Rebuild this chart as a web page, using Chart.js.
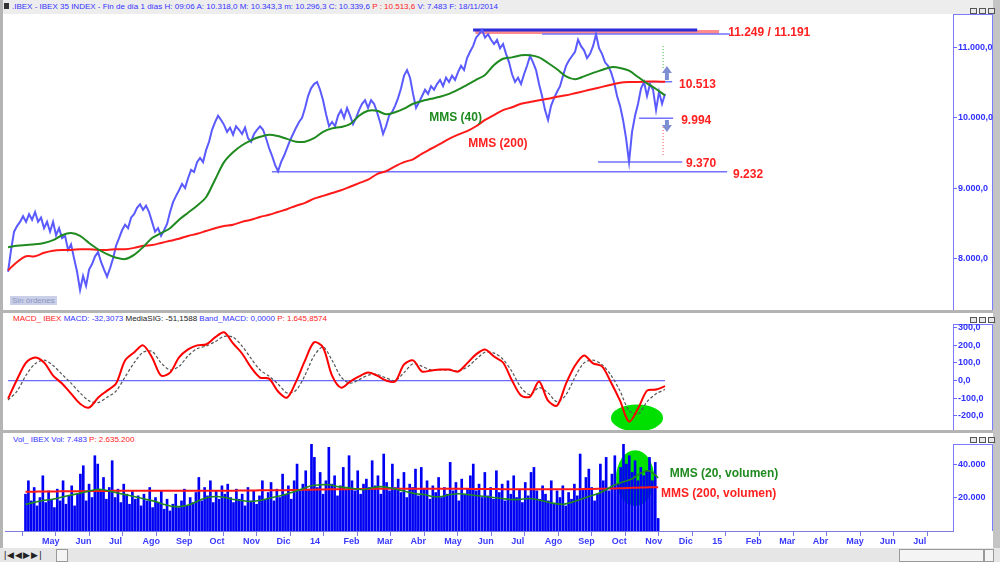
<!DOCTYPE html>
<html>
<head>
<meta charset="utf-8">
<script src="https://cdn.jsdelivr.net/npm/chart.js@4"></script>
<style>
  body { margin:0; width:1000px; height:562px; overflow:hidden; background:#b4b4b4; position:relative;
         font-family:"Liberation Sans", Arial, sans-serif; }
  .abs { position:absolute; }
  .panel { position:absolute; background:#fff; }
  .hdr { position:absolute; font-size:8px; white-space:nowrap; color:#3434ff; }
  .r { color:#ff2020; }
  .k { color:#222; }
  .axbox { position:absolute; border:1px solid #7b7bff; border-bottom:none; box-sizing:border-box; }
  .btns { position:absolute; white-space:nowrap; line-height:0; }
  .btns span { display:inline-block; width:5px; height:4px; border:1px solid #555; margin-right:2px; background:#e8e8e8; }
  canvas { position:absolute; left:0; }
</style>
</head>
<body>
<div class="panel" style="left:3px;top:0;width:990px;height:14px;background:#ededed"></div>
<div class="panel" style="left:3px;top:14px;width:990px;height:296px"></div>
<div class="panel" style="left:3px;top:313px;width:990px;height:117px"></div>
<div class="panel" style="left:3px;top:433px;width:990px;height:115px"></div>
<div class="panel" style="left:0;top:548px;width:1000px;height:14px;background:#e6e6e6"></div>
<div class="panel" style="left:993px;top:0;width:7px;height:548px;background:#c4c4c4"></div>

<div class="hdr" style="left:4px;top:3px;width:5px;height:6px;background:#333"></div>
<div class="hdr" style="left:12px;top:2px">.IBEX - IBEX 35 INDEX - Fin de día 1 días H: 09:06 A: 10.318,0 M: 10.343,3 m: 10.296,3 C: 10.339,6 <span class="r">P : 10.513,6</span> V: 7.483 F: 18/11/2014</div>
<div class="hdr" style="left:13px;top:314px"><span class="r">MACD_ IBEX</span> MACD: -32,3073 <span class="k">MediaSIG: -51,1588</span> Band_MACD: 0,0000 <span class="r">P: 1.645,8574</span></div>
<div class="hdr" style="left:13px;top:435px">Vol_ IBEX Vol: 7.483 <span class="r">P: 2.635.200</span></div>
<div class="hdr" style="left:10px;top:296px;background:#c9d0e8;color:#8b95c2;padding:0 2px">Sin órdenes</div>

<div class="btns" style="left:970px;top:8px"><span></span><span></span><span></span></div>
<div class="btns" style="left:970px;top:317px"><span></span><span></span><span></span></div>
<div class="btns" style="left:970px;top:437px"><span></span><span></span><span></span></div>

<div class="axbox" style="left:953px;top:14px;width:40px;height:296px"></div>
<div class="axbox" style="left:953px;top:324px;width:40px;height:106px"></div>
<div class="axbox" style="left:953px;top:444px;width:40px;height:87px"></div>

<div class="hdr k" style="left:4px;top:550px;font-size:9px;letter-spacing:1px">|◀◀▶▶|</div>
<div class="abs" style="left:56px;top:549px;width:10px;height:11px;border:1px solid #999;background:#f4f4f4"></div>
<div class="abs" style="left:899px;top:549px;width:83px;height:11px;border:1px solid #999;background:#f4f4f4"></div>
<div class="abs" style="left:984px;top:549px;width:8px;height:11px;border:1px solid #999;background:#f4f4f4"></div>

<canvas id="price" width="993" height="296" style="top:14px"></canvas>
<canvas id="macd" width="993" height="106" style="top:324px"></canvas>
<canvas id="vol" width="993" height="104" style="top:444px"></canvas>

<script>
// x axis unit: months counted from 1 May 2013
const monthLabels = ['May','Jun','Jul','Ago','Sep','Oct','Nov','Dic','14','Feb','Mar','Abr','May','Jun','Jul','Ago','Sep','Oct','Nov','Dic','15','Feb','Mar','Abr','May','Jun','Jul'];
const firstSample = -0.402;   // mid April 2013
const dayStep = 0.0862;       // price / volume sampling step
const maStep = 0.2586;        // averages / MACD sampling step

// IBEX close
const priceClose = [
  7810, 8120, 8380, 8460, 8520, 8600, 8520, 8630, 8550, 8660,
  8520, 8580, 8430, 8520, 8380, 8520, 8330, 8430, 8290, 8320,
  8120, 8200, 8000, 7810, 7550, 7750, 7610, 7840, 7920, 8030,
  8090, 7950, 7840, 7740, 7860, 8000, 8180, 8290, 8400, 8480,
  8430, 8580, 8630, 8720, 8770, 8690, 8750, 8660, 8520, 8380,
  8430, 8320, 8400, 8490, 8660, 8800, 8890, 8970, 9060, 9000,
  9140, 9260, 9230, 9370, 9430, 9370, 9540, 9660, 9830, 9940,
  10030, 9970, 9900, 9800, 9860, 9760, 9880, 9830, 9770, 9860,
  9710, 9660, 9770, 9830, 9880, 9830, 9710, 9570, 9460, 9330,
  9240, 9370, 9460, 9570, 9680, 9770, 9860, 9940, 10000, 10140,
  10310, 10420, 10480, 10510, 10400, 10250, 10050, 9880, 9940, 9880,
  10030, 10110, 10000, 10140, 10030, 9910, 10000, 10110, 10200, 10250,
  10140, 10250, 10200, 10080, 9940, 9770, 9880, 10030, 10080, 10170,
  10280, 10420, 10600, 10680, 10570, 10340, 10140, 10220, 10310, 10400,
  10340, 10450, 10400, 10480, 10540, 10450, 10570, 10510, 10600, 10540,
  10650, 10740, 10680, 10850, 10940, 11020, 11140, 11190, 11250, 11140,
  11190, 11110, 11050, 11110, 10990, 11050, 10910, 10790, 10620, 10510,
  10570, 10480, 10620, 10740, 10880, 10790, 10680, 10480, 10310, 10110,
  9970, 10170, 10280, 10370, 10450, 10600, 10740, 10820, 10880, 10940,
  11110, 11020, 10960, 10850, 10910, 11020, 11190, 10990, 10910, 10790,
  10740, 10650, 10510, 10310, 10170, 9970, 9710, 9370, 9800, 10030,
  10200, 10420, 10510, 10310, 10480, 10400, 10110, 10370, 10200, 10340
];
const mms40 = [
  8160, 8180, 8190, 8200, 8220, 8260, 8330, 8360, 8320, 8220,
  8130, 8060, 8010, 7990, 8050, 8160, 8290, 8360, 8430, 8550,
  8650, 8750, 8870, 9120, 9370, 9510, 9610, 9680, 9730, 9760,
  9740, 9700, 9660, 9660, 9710, 9800, 9850, 9870, 9910, 10030,
  10100, 10100, 10050, 10080, 10130, 10200, 10240, 10270, 10300, 10340,
  10400, 10470, 10540, 10610, 10750, 10840, 10860, 10890, 10890, 10860,
  10780, 10690, 10590, 10550, 10590, 10640, 10680, 10720, 10710, 10670,
  10580, 10490, 10410, 10320
];
const mms200 = [
  7830, 7950, 8030, 8030, 8080, 8110, 8120, 8120, 8130, 8130,
  8120, 8120, 8130, 8130, 8150, 8180, 8190, 8220, 8250, 8280,
  8320, 8350, 8390, 8430, 8460, 8480, 8520, 8550, 8590, 8620,
  8660, 8700, 8750, 8790, 8850, 8890, 8930, 8970, 9020, 9070,
  9120, 9200, 9240, 9310, 9370, 9410, 9490, 9560, 9630, 9700,
  9760, 9810, 9880, 9970, 10040, 10110, 10150, 10200, 10225, 10250,
  10270, 10300, 10320, 10350, 10380, 10410, 10440, 10470, 10500, 10510,
  10510, 10515, 10515, 10513
];
// support / resistance levels
const levelValues = [11249, 11191, 10513, 9994, 9370, 9232];
const levelFrom   = [12.96, 14.94, 17.76, 17.73, 16.55, 7.18];
const levelTo     = [19.40, 20.34, 18.68, 18.71, 18.97, 20.26];
const zoneFrom = 13.02, zoneTo = 20.03;

// MACD
const macdLine = [
  -102, 6, 102, 131, 102, 28, -17, -74, -131, -153,
  -97, -57, -17, 114, 159, 199, 131, 28, 45, 131,
  176, 199, 204, 244, 273, 210, 153, 74, 17, 11,
  -62, -97, -6, 114, 216, 187, 28, -40, -6, 23,
  45, 28, 0, -6, 91, 114, 51, 57, 62, 62,
  51, 97, 148, 176, 136, 102, 0, -85, -91, -6,
  -114, -142, -17, 85, 142, 97, 80, -11, -114, -233,
  -159, -57, -51, -32
];
const macdSignal = [
  -110, -60, 30, 95, 115, 85, 35, -15, -70, -115,
  -125, -95, -60, 20, 100, 160, 165, 100, 60, 80,
  140, 180, 195, 220, 250, 245, 195, 125, 60, 25,
  -20, -70, -55, 30, 140, 190, 115, 20, -15, 5,
  30, 35, 15, 0, 45, 95, 80, 60, 60, 60,
  55, 75, 120, 160, 155, 120, 50, -40, -80, -40,
  -70, -120, -80, 20, 100, 115, 90, 30, -60, -170,
  -190, -120, -75, -51
];

// volume, thousands of contracts
const volume = [
  22, 30, 18, 26, 15, 20, 33, 17, 24, 19,
  14, 25, 18, 30, 16, 21, 27, 15, 22, 34,
  39, 18, 28, 20, 45, 40, 24, 32, 19, 26,
  42, 20, 25, 17, 28, 22, 16, 24, 19, 21,
  15, 22, 18, 26, 14, 20, 17, 24, 13, 19,
  12, 16, 22, 14, 18, 25, 15, 20, 17, 23,
  32, 18, 26, 21, 30, 17, 24, 19, 27, 22,
  28, 20, 17, 25, 19, 22, 15, 26, 18, 24,
  16, 21, 30, 19, 23, 29, 18, 25, 20, 34,
  22, 27, 19, 30, 40, 24, 28, 36, 25, 52,
  44, 26, 35, 22, 30, 50, 28, 33, 21, 27,
  38, 25, 45, 30, 24, 36, 22, 28, 31, 26,
  42, 27, 33, 22, 46, 29, 24, 40, 26, 31,
  23, 35, 20, 28, 26, 37, 21, 38, 25, 30,
  19, 27, 23, 32, 20, 26, 22, 41, 24, 29,
  18, 31, 22, 25, 33, 40, 24, 28, 20, 35,
  21, 26, 19, 36, 23, 28, 18, 30, 22, 33,
  20, 25, 17, 29, 21, 35, 38, 24, 19, 27,
  22, 18, 30, 16, 24, 20, 27, 15, 23, 19,
  28, 21, 46, 25, 32, 37, 26, 18, 22, 40,
  30, 44, 24, 34, 45, 28, 38, 52, 40, 45,
  35, 42, 30, 38, 33, 36, 44, 30, 41, 7.5
];
const volMms20 = [
  15.9, 17.1, 18.2, 18.8, 20.0, 21.2, 22.3, 23.5, 24.7, 24.7,
  23.5, 22.3, 21.2, 20.0, 18.8, 17.6, 15.9, 14.7, 14.7, 15.9,
  18.2, 20.0, 20.6, 20.0, 18.8, 18.2, 17.6, 18.2, 19.4, 20.6,
  21.8, 23.5, 25.3, 27.0, 27.6, 27.6, 26.5, 25.9, 25.3, 24.7,
  25.9, 26.5, 25.9, 24.7, 23.5, 22.3, 21.8, 20.6, 20.6, 21.8,
  22.3, 21.8, 21.2, 20.6, 20.0, 19.4, 18.8, 18.8, 19.4, 18.8,
  17.6, 16.5, 15.9, 17.1, 18.8, 20.6, 22.3, 24.7, 27.6, 29.4,
  31.2, 34.7, 35.9, 31.8
];
const volMms200 = [
  23.5, 23.5, 23.6, 23.6, 23.7, 23.7, 23.8, 23.8, 23.9, 23.9,
  24.0, 24.0, 24.0, 24.1, 24.1, 24.1, 24.1, 24.0, 24.0, 24.0,
  24.0, 24.0, 24.1, 24.1, 24.1, 24.2, 24.2, 24.3, 24.3, 24.4,
  24.4, 24.5, 24.6, 24.7, 24.8, 24.9, 25.0, 25.0, 25.1, 25.1,
  25.2, 25.2, 25.2, 25.3, 25.3, 25.3, 25.3, 25.2, 25.2, 25.2,
  25.2, 25.2, 25.1, 25.1, 25.1, 25.0, 25.0, 25.0, 25.0, 24.9,
  24.9, 24.9, 24.9, 25.0, 25.0, 25.1, 25.2, 25.3, 25.4, 25.6,
  25.8, 26.0, 26.1, 26.2
];

const X_MIN = -0.49, X_MAX = 26.75;
const FONT = '"Liberation Sans", Arial, sans-serif';
const RED = '#ff2020', GREEN = '#1f8a1f', LEVEL = '#7272ff';

const series = (vals, step) => vals.map((v, i) => ({ x: firstSample + i * step, y: v }));
const seg = (x1, x2, v) => [{ x: x1, y: v }, { x: x2, y: v }];
const vseg = (x, v1, v2) => [{ x, y: v1 }, { x, y: v2 }];

function fmtEs(v, dec) {
  const parts = Math.abs(v).toFixed(dec).split('.');
  const int = parts[0].replace(/\B(?=(\d{3})+(?!\d))/g, '.');
  return (v < 0 ? '-' : '') + int + (dec ? ',' + parts[1] : '');
}

function rightAxis(min, max, ticks, fmt) {
  return {
    position: 'right', min, max,
    afterBuildTicks: s => { s.ticks = ticks.map(v => ({ value: v })); },
    afterFit: s => { s.width = 40; s.paddingTop = 0; s.paddingBottom = 0; },
    grid: { drawOnChartArea: false, tickLength: 4, color: '#6a6aff' },
    border: { display: false },
    ticks: { color: '#3030ff', padding: 1, font: { family: FONT, size: 9, weight: 'bold' }, callback: fmt }
  };
}
const hiddenX = { type: 'linear', min: X_MIN, max: X_MAX, display: false };

// text labels, arrows and ellipses placed in data coordinates
function marks(id, opts) {
  return {
    id,
    beforeDatasetsDraw(chart) {
      const { ctx, scales: { x, y } } = chart;
      (opts.ellipses || []).forEach(e => {
        const cx = x.getPixelForValue(e.x), cy = y.getPixelForValue(e.y);
        const rx = x.getPixelForValue(e.x + e.rx) - cx;
        const ry = cy - y.getPixelForValue(e.y + e.ry);
        ctx.save();
        ctx.fillStyle = '#00e000';
        ctx.beginPath();
        ctx.ellipse(cx, cy, rx, ry, 0, 0, Math.PI * 2);
        ctx.fill();
        ctx.restore();
      });
    },
    afterDatasetsDraw(chart) {
      const { ctx, scales: { x, y } } = chart;
      ctx.save();
      (opts.arrows || []).forEach(a => {
        const px = x.getPixelForValue(a.x);
        const yb = y.getPixelForValue(a.from), yt = y.getPixelForValue(a.to);
        const d = yt < yb ? -1 : 1;
        const head = yt - d * 7;
        ctx.fillStyle = '#7d8fd2';
        ctx.fillRect(px - 2, Math.min(yb, head), 4, Math.abs(head - yb));
        ctx.beginPath();
        ctx.moveTo(px - 5, head);
        ctx.lineTo(px + 5, head);
        ctx.lineTo(px, yt);
        ctx.closePath();
        ctx.fill();
      });
      ctx.font = 'bold 12px ' + FONT;
      ctx.textBaseline = 'middle';
      ctx.textAlign = 'left';
      (opts.notes || []).forEach(n => {
        ctx.fillStyle = n.color;
        ctx.fillText(n.text, x.getPixelForValue(n.x), y.getPixelForValue(n.y));
      });
      ctx.restore();
    },
    afterDraw(chart) {
      if (!opts.monthAxis) return;
      const { ctx, chartArea, scales: { x } } = chart;
      ctx.save();
      ctx.font = 'bold 9px ' + FONT;
      ctx.fillStyle = '#3a3aff';
      ctx.textAlign = 'left';
      ctx.textBaseline = 'middle';
      x.ticks.forEach(t => {
        ctx.fillText(monthLabels[t.value], x.getPixelForValue(t.value) + 3, chartArea.bottom + 11);
      });
      ctx.restore();
    }
  };
}

const common = {
  responsive: false, animation: false, devicePixelRatio: 1,
  layout: { padding: { left: 5, right: 0, top: 0, bottom: 0 } },
  plugins: { legend: { display: false }, tooltip: { enabled: false } },
  elements: { point: { radius: 0 } }
};

// ---- price panel
const levelStyle = [
  { color: '#2d2dd8', width: 3 }, { color: LEVEL, width: 1.5 }, { color: LEVEL, width: 1.5 },
  { color: LEVEL, width: 1.5 }, { color: LEVEL, width: 1.5 }, { color: LEVEL, width: 1.5 }
];
const priceSets = [
  { data: series(mms40, maStep), borderColor: GREEN, borderWidth: 2, tension: 0.3 },
  { data: series(mms200, maStep), borderColor: '#ff1a1a', borderWidth: 2, tension: 0.3 },
  { data: series(priceClose, dayStep), borderColor: '#5a5aff', borderWidth: 2, tension: 0 },
  ...levelValues.map((v, i) => ({
    data: seg(levelFrom[i], levelTo[i], v), borderColor: levelStyle[i].color, borderWidth: levelStyle[i].width
  })),
  { data: vseg(18.42, 10708, 11036), borderColor: '#3cb43c', borderWidth: 1, borderDash: [1, 2] },
  { data: vseg(18.42, 9869, 9471), borderColor: '#ff5050', borderWidth: 1, borderDash: [1, 2] },
  { data: seg(zoneFrom, zoneTo, levelValues[0]), borderWidth: 0, fill: '+1', backgroundColor: '#ff8c8c' },
  { data: seg(zoneFrom, zoneTo, levelValues[1]), borderWidth: 0 }
];

new Chart(document.getElementById('price'), {
  type: 'line',
  data: { datasets: priceSets },
  options: {
    ...common,
    scales: {
      x: hiddenX,
      y: rightAxis(7266, 11477, [8000, 9000, 10000, 11000], v => fmtEs(v, 1))
    }
  },
  plugins: [marks('priceMarks', {
    notes: [
      { text: '11.249 / 11.191', x: 20.29, y: 11206, color: RED },
      { text: '10.513', x: 18.88, y: 10474, color: RED },
      { text: '9.994', x: 18.94, y: 9954, color: RED },
      { text: '9.370', x: 19.08, y: 9343, color: RED },
      { text: '9.232', x: 20.43, y: 9186, color: RED },
      { text: 'MMS (40)', x: 11.70, y: 9997, color: GREEN },
      { text: 'MMS (200)', x: 12.82, y: 9627, color: RED }
    ],
    arrows: [
      { x: 18.53, from: 10538, to: 10737 },
      { x: 18.53, from: 9969, to: 9798 }
    ]
  })]
});

// ---- MACD panel
new Chart(document.getElementById('macd'), {
  type: 'line',
  data: {
    datasets: [
      { data: series(macdLine, maStep), borderColor: '#ff0000', borderWidth: 2, tension: 0.3 },
      { data: series(macdSignal, maStep), borderColor: '#555', borderWidth: 1.2, borderDash: [3, 2], tension: 0.3 },
      { data: seg(firstSample, firstSample + (macdLine.length - 1) * maStep, 0), borderColor: '#6a6aff', borderWidth: 1.2 }
    ]
  },
  options: {
    ...common,
    scales: {
      x: hiddenX,
      y: rightAxis(-280, 320, [-200, -100, 0, 100, 200, 300], v => fmtEs(v, 1))
    }
  },
  plugins: [marks('macdMarks', { ellipses: [{ x: 17.67, y: -212, rx: 0.75, ry: 76 }] })]
});

// ---- volume panel
new Chart(document.getElementById('vol'), {
  type: 'bar',
  data: {
    datasets: [
      { type: 'line', data: series(volMms20, maStep), borderColor: GREEN, borderWidth: 1.6, tension: 0.3 },
      { type: 'line', data: series(volMms200, maStep), borderColor: '#ff1a1a', borderWidth: 2, tension: 0.3 },
      { type: 'bar', data: series(volume, dayStep), backgroundColor: '#0000f2', barThickness: 2 }
    ]
  },
  options: {
    ...common,
    scales: {
      x: {
        type: 'linear', min: X_MIN, max: X_MAX, position: 'bottom',
        afterBuildTicks: s => { s.ticks = monthLabels.map((_, i) => ({ value: i })); },
        afterFit: s => { s.height = 17; s.paddingLeft = 0; s.paddingRight = 0; },
        grid: { drawOnChartArea: false, tickLength: 5, color: '#7c7cdc' },
        border: { display: true, color: '#7c7cdc' },
        ticks: { display: false }
      },
      y: rightAxis(0, 52, [20, 40], v => fmtEs(v * 1000, 0))
    }
  },
  plugins: [marks('volMarks', {
    monthAxis: true,
    ellipses: [{ x: 17.79, y: 31.6, rx: 0.57, ry: 16.7 }],
    notes: [
      { text: 'MMS (20, volumen)', x: 18.82, y: 34.0, color: GREEN },
      { text: 'MMS (200, volumen)', x: 18.56, y: 22.1, color: RED }
    ]
  })]
});
</script>
</body>
</html>
